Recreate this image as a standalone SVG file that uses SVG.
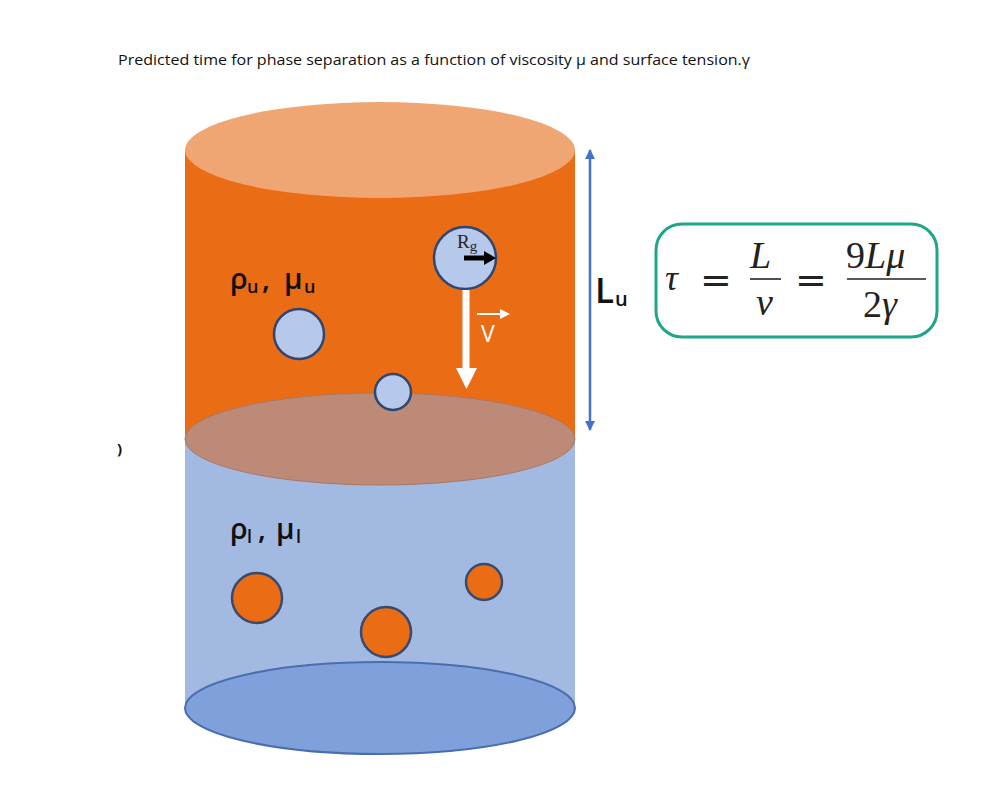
<svg xmlns="http://www.w3.org/2000/svg" width="992" height="811" viewBox="0 0 992 811">
<defs>
<style>
.lbl{font-family:"Open Sans","Liberation Sans",sans-serif;fill:#111}
.med{font-weight:600}
.math{font-family:"Liberation Serif","DejaVu Serif",serif;font-style:italic;fill:#222}
.mathr{font-family:"Liberation Serif","DejaVu Serif",serif;fill:#222}
.eq{font-family:"DejaVu Serif",serif;fill:#222}
.bub{fill:#B7C9EA;stroke:#2E4670;stroke-width:2.5}
.drop{fill:#EA6C14;stroke:#3A4A6E;stroke-width:2.5}
</style>
<marker id="bh" viewBox="0 0 10 10" refX="9" refY="5" markerWidth="4" markerHeight="4" orient="auto-start-reverse"><path d="M0,0 L10,5 L0,10 z" fill="#4472C4"/></marker>
</defs>
<rect width="992" height="811" fill="#fff"/>
<text class="lbl" x="118" y="65" font-size="15" textLength="632" lengthAdjust="spacingAndGlyphs">Predicted time for phase separation as a function of viscosity μ and surface tension.γ</text>
<text class="lbl" x="117" y="454" font-size="15" font-weight="bold">)</text>

<g id="cylinder">
<rect x="185" y="439" width="390" height="269" fill="#A2B9E2"/>
<ellipse cx="380" cy="708" rx="195" ry="46" fill="#7FA0DA" stroke="#4A6DB0" stroke-width="2"/>
<rect x="185" y="150" width="390" height="289" fill="#EA6C14"/>
<ellipse cx="380" cy="150" rx="195" ry="48" fill="#F0A672"/>
<ellipse cx="380" cy="439" rx="195" ry="46" fill="#BC8A77" stroke="#A97766" stroke-width="1"/>
</g>

<g id="labels">
<text class="lbl med" font-size="29"><tspan x="230" y="289">ρ</tspan><tspan x="247" y="293" font-size="18">u</tspan><tspan x="262" y="289">,</tspan><tspan x="284" y="289">μ</tspan><tspan x="304" y="293" font-size="18">u</tspan></text>
<text class="lbl med" font-size="29"><tspan x="230" y="539">ρ</tspan><tspan x="247" y="543" font-size="18">l</tspan><tspan x="258" y="539">,</tspan><tspan x="276" y="539">μ</tspan><tspan x="296" y="543" font-size="18">l</tspan></text>
</g>

<g id="bubbles">
<circle class="bub" cx="465" cy="258" r="31"/>
<circle class="bub" cx="299" cy="334" r="25"/>
<circle class="bub" cx="393" cy="392" r="18"/>
</g>
<g id="drops">
<circle class="drop" cx="257" cy="598" r="25"/>
<circle class="drop" cx="386" cy="632" r="25"/>
<circle class="drop" cx="484" cy="582" r="18"/>
</g>

<g id="radius">
<text class="mathr" x="457" y="248" font-size="19">R<tspan font-size="15" dy="3">g</tspan></text>
<path d="M464 258 H486" stroke="#000" stroke-width="5"/>
<path d="M484 251 L496 258 L484 265 z" fill="#000"/>
</g>

<g id="connectors">
<path d="M466 290 V370" stroke="#fff" stroke-width="7"/>
<path d="M456 368 L477 368 L466.5 389 z" fill="#fff"/>
<path d="M477 314 H502" stroke="#fff" stroke-width="2"/>
<path d="M500 309 L510 314 L500 319 z" fill="#fff"/>
<path d="M590 150 V430" stroke="#4472C4" stroke-width="2.5" marker-start="url(#bh)" marker-end="url(#bh)"/>
</g>
<text class="lbl" x="481" y="342" font-size="23" style="fill:#fff">V</text>
<text class="lbl med" font-size="35"><tspan x="595" y="303">L</tspan><tspan x="615" y="306" font-size="20">u</tspan></text>

<g id="formula">
<rect x="656" y="224" width="281" height="113" rx="26" ry="26" fill="#fff" stroke="#1FA58B" stroke-width="3"/>
<text class="math" x="665" y="290" font-size="36">τ</text>
<text class="eq" x="700" y="293" font-size="38">=</text>
<text class="math" x="750" y="268" font-size="38">L</text>
<path d="M750 279 H781" stroke="#222" stroke-width="1.6"/>
<text class="math" x="756" y="315" font-size="38">v</text>
<text class="eq" x="795" y="293" font-size="38">=</text>
<text class="mathr" x="846" y="268" font-size="38">9<tspan class="math">Lμ</tspan></text>
<path d="M847 279 H926" stroke="#222" stroke-width="1.6"/>
<text class="mathr" x="863" y="317" font-size="38">2<tspan class="math">γ</tspan></text>
</g>
</svg>
